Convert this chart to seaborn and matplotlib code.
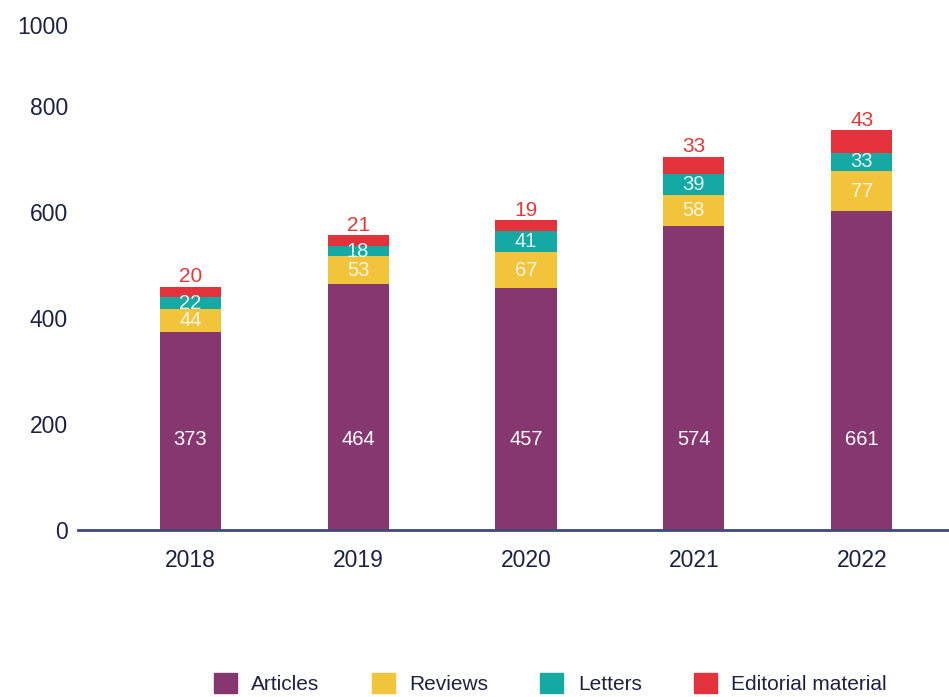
import matplotlib
matplotlib.use('Agg')
import matplotlib.pyplot as plt
import pandas as pd
import seaborn as sns

# Publications per year, split by document type
years = ['2018', '2019', '2020', '2021', '2022']
articles = [373, 464, 457, 574, 601]          # bar height as drawn in the source
articles_printed = [373, 464, 457, 574, 661]  # label printed on the source bar
reviews = [44, 53, 67, 58, 77]
letters = [22, 18, 41, 39, 33]
editorial = [20, 21, 19, 33, 43]

series_names = ['Articles', 'Reviews', 'Letters', 'Editorial material']
colors = ['#87376f', '#f1c43c', '#15a9a3', '#e3323c']
text_color = '#1d2242'

sns.set_style('white')
plt.rcParams['font.family'] = ['Liberation Sans', 'DejaVu Sans']

df = pd.DataFrame({'year': years, 'Articles': articles, 'Reviews': reviews,
                   'Letters': letters, 'Editorial material': editorial})

# cumulative tops so that each layer can be drawn over the one above it
df['c_art'] = df['Articles']
df['c_rev'] = df['c_art'] + df['Reviews']
df['c_let'] = df['c_rev'] + df['Letters']
df['c_edi'] = df['c_let'] + df['Editorial material']

fig = plt.figure(figsize=(9.49, 6.97), dpi=100)
ax = fig.add_axes([0.082, 0.2396, 0.918, 0.7604])

bar_w = 0.365
for col, c in zip(['c_edi', 'c_let', 'c_rev', 'c_art'], colors[::-1]):
    sns.barplot(data=df, x='year', y=col, color=c, width=bar_w, ax=ax,
                saturation=1, edgecolor='none', linewidth=0)

ax.set_xlim(-0.67, 4.52)
ax.set_ylim(0, 1000)
ax.set_xlabel('')
ax.set_ylabel('')

# labels inside the bars
lab_fs = 14.5
for i in range(len(years)):
    ax.text(i, 170, str(articles_printed[i]), ha='center', va='center',
            color='white', fontsize=lab_fs)
    ax.text(i, df['c_art'][i] + reviews[i] / 2, str(reviews[i]), ha='center',
            va='center', color='#fdf6e0', fontsize=lab_fs)
    ax.text(i, df['c_rev'][i] + letters[i] / 2, str(letters[i]), ha='center',
            va='center', color='#e4f7f6', fontsize=lab_fs)
    ax.text(i, df['c_edi'][i] + 1, str(editorial[i]), ha='center',
            va='bottom', color='#e03a3c', fontsize=lab_fs + 0.5)

# axes styling
for s in ['top', 'right', 'left']:
    ax.spines[s].set_visible(False)
ax.spines['bottom'].set_color('#3d4a78')
ax.spines['bottom'].set_linewidth(2)
ax.set_yticks([0, 200, 400, 600, 800])
ax.tick_params(axis='y', length=0, pad=7, labelsize=16.5, labelcolor=text_color)
ax.tick_params(axis='x', length=0, pad=14, labelsize=16.5, labelcolor=text_color)
# top label sits a bit below its gridline in the source
ax.annotate('1000', xy=(0, 1000), xycoords=ax.get_yaxis_transform(),
            xytext=(-7, -19.5), textcoords='offset points', ha='right',
            va='center', fontsize=16.5, color=text_color)

handles = [plt.Rectangle((0, 0), 1, 1, color=c) for c in colors]
fig.legend(handles, series_names, loc='center', bbox_to_anchor=(0.58, 0.019),
           ncol=4, frameon=False, fontsize=15, handlelength=1.1,
           handleheight=1.1, handletextpad=0.7, columnspacing=2.5,
           labelcolor=text_color)

fig.savefig('out.png', dpi=100)
